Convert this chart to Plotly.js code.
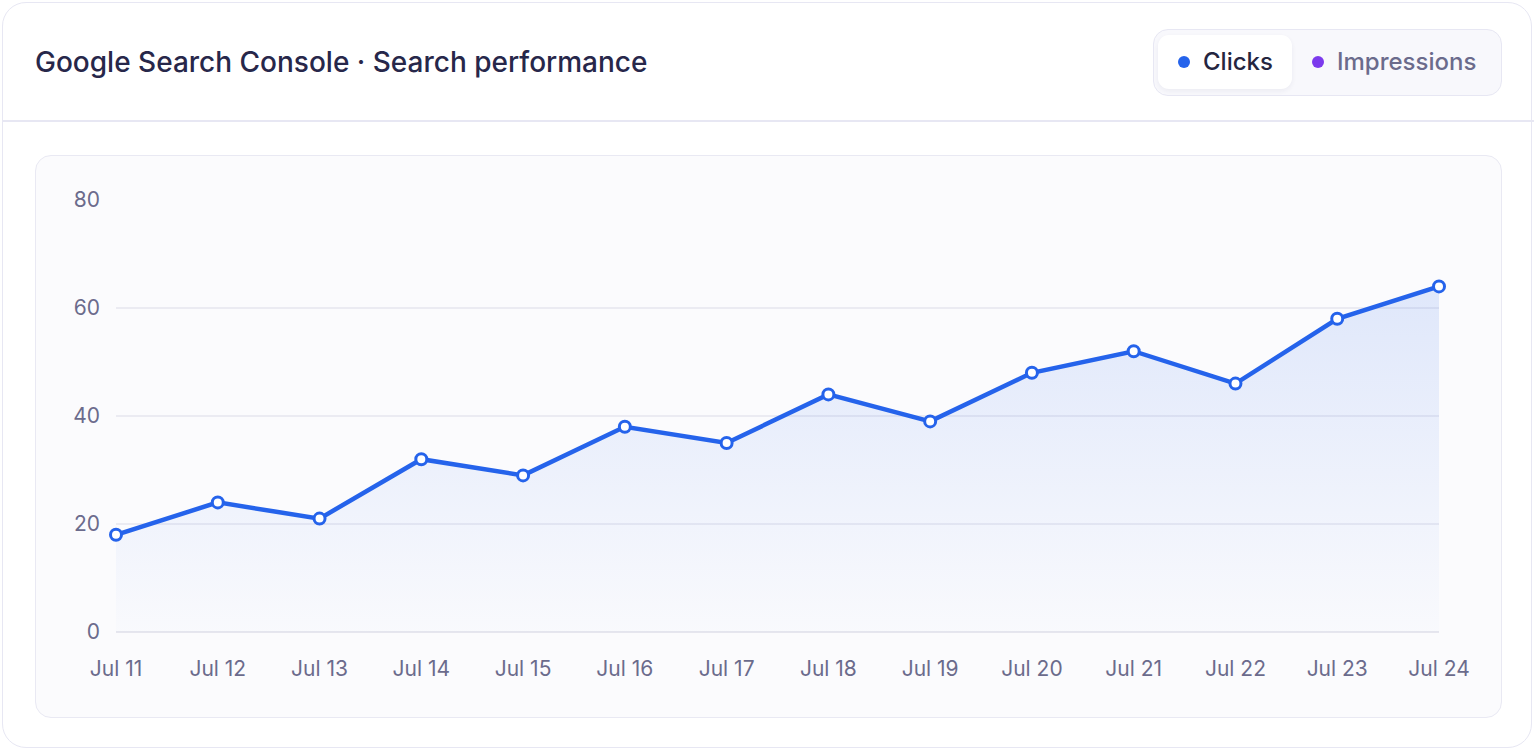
<!DOCTYPE html>
<html>
<head>
<meta charset="utf-8">
<script src="https://cdn.plot.ly/plotly-3.0.1.min.js"></script>
<style>
  html, body { margin: 0; padding: 0; background: #ffffff; font-family: Inter, "Noto Sans", sans-serif; }
  .card {
    position: absolute; left: 2px; top: 2px; width: 1530px; height: 746px;
    border: 1.5px solid #e7e7f3; border-radius: 24px; box-sizing: border-box; background: #fff;
  }
  .divider { position: absolute; left: 2px; top: 120px; width: 1532px; height: 1.5px; background: #e7e7f3; }
  .panel {
    position: absolute; left: 35px; top: 155px; width: 1467px; height: 563px;
    border: 1.5px solid #e9e9f3; border-radius: 16px; box-sizing: border-box; background: #fbfbfd;
  }
  .toggle {
    position: absolute; left: 1153px; top: 29px; width: 349px; height: 67px;
    border: 1.5px solid #e7e7f3; border-radius: 15px; box-sizing: border-box; background: #f8f8fc;
  }
  .btn {
    position: absolute; top: 5px; height: 54px; border-radius: 11px;
    font-size: 24px; line-height: 54px; font-weight: 450;
  }
  .btn.on { left: 4px; width: 134px; background: #fff; color: #25253f; box-shadow: 0 2px 5px rgba(30,30,80,0.06); }
  .btn.off { left: 140px; width: 200px; color: #6b6b8c; }
  .dot { position: absolute; top: 21px; width: 12px; height: 12px; border-radius: 6px; }
  .lbl { position: absolute; top: 0; }
  #chart { position: absolute; left: 0; top: 0; width: 1536px; height: 752px; }
</style>
</head>
<body>
<div class="card"></div>
<div class="divider"></div>
<div class="panel"></div>
<div class="toggle">
  <div class="btn on"><span class="dot" style="left:20px;background:#2563eb"></span><span class="lbl" style="left:45px">Clicks</span></div>
  <div class="btn off"><span class="dot" style="left:18px;background:#7c3aed"></span><span class="lbl" style="left:43px">Impressions</span></div>
</div>
<div id="chart"></div>
<script>
// dates and clicks per day
const days = ["Jul 11", "Jul 12", "Jul 13", "Jul 14", "Jul 15", "Jul 16", "Jul 17",
              "Jul 18", "Jul 19", "Jul 20", "Jul 21", "Jul 22", "Jul 23", "Jul 24"];
const clicks = [18, 24, 21, 32, 29, 38, 35, 44, 39, 48, 52, 46, 58, 64];
const yTicks = [0, 20, 40, 60, 80];

const trace = {
  x: days,
  y: clicks,
  type: "scatter",
  mode: "lines+markers",
  cliponaxis: false,
  fill: "tozeroy",
  fillcolor: "rgba(37,99,235,0.08)",
  fillgradient: {
    type: "vertical",
    colorscale: [[0, "rgba(37,99,235,0.01)"], [1, "rgba(37,99,235,0.13)"]]
  },
  line: { color: "#2563eb", width: 4.5 },
  marker: { size: 11, color: "#ffffff", line: { color: "#2563eb", width: 3 } },
  hoverinfo: "x+y"
};

const layout = {
  width: 1536,
  height: 752,
  paper_bgcolor: "rgba(0,0,0,0)",
  plot_bgcolor: "rgba(0,0,0,0)",
  margin: { l: 116, r: 97, t: 200, b: 120 },
  showlegend: false,
  font: { family: "Inter, 'Noto Sans', sans-serif", color: "#6b6b8c" },
  title: {
    text: "Google Search Console · Search performance",
    xref: "container", yref: "container",
    x: 35 / 1536, xanchor: "left",
    y: 1 - 62 / 752, yanchor: "middle",
    font: { size: 28, color: "#27274a", weight: 460 }
  },
  xaxis: {
    type: "category",
    range: [0, days.length - 1],
    showgrid: false,
    zeroline: false,
    showline: false,
    ticks: "",
    ticklabelstandoff: 22,
    tickfont: { size: 21, color: "#6b6b8c" },
    fixedrange: true
  },
  yaxis: {
    range: [0, 80],
    tickvals: yTicks,
    showgrid: true,
    gridcolor: "#ebebf2",
    gridwidth: 1.5,
    zeroline: true,
    zerolinecolor: "#e6e6ee",
    zerolinewidth: 2,
    showline: false,
    ticks: "",
    ticklabelstandoff: 15,
    tickfont: { size: 21, color: "#6b6b8c" },
    fixedrange: true
  }
};

Plotly.newPlot("chart", [trace], layout, { displayModeBar: false, staticPlot: true });
</script>
</body>
</html>
